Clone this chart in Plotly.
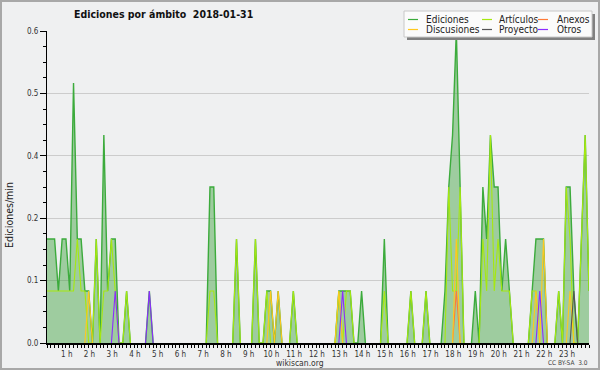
import plotly.graph_objects as go

# 10-minute bins over 2018-01-31 (00:00 ... 23:50), values in edits per minute
slot_hours = [i / 6 for i in range(144)]

ediciones = [
    0.2, 0.2, 0.2, 0.1, 0.2, 0.2, 0.1, 0.5, 0.2, 0.2, 0.1, 0.1,
    0.0, 0.2, 0.0, 0.4, 0.1, 0.2, 0.2, 0.0, 0.0, 0.1, 0.0, 0.0,
    0.0, 0.0, 0.0, 0.1, 0.0, 0.0, 0.0, 0.0, 0.0, 0.0, 0.0, 0.0,
    0.0, 0.0, 0.0, 0.0, 0.0, 0.0, 0.0, 0.3, 0.3, 0.0, 0.0, 0.0,
    0.0, 0.0, 0.2, 0.0, 0.0, 0.0, 0.0, 0.2, 0.0, 0.0, 0.1, 0.1,
    0.0, 0.1, 0.0, 0.0, 0.0, 0.1, 0.0, 0.0, 0.0, 0.0, 0.0, 0.0,
    0.0, 0.0, 0.0, 0.0, 0.0, 0.1, 0.1, 0.1, 0.1, 0.0, 0.0, 0.1,
    0.0, 0.0, 0.0, 0.0, 0.0, 0.2, 0.0, 0.0, 0.0, 0.0, 0.0, 0.0,
    0.1, 0.0, 0.0, 0.0, 0.1, 0.0, 0.0, 0.0, 0.0, 0.1, 0.3, 0.4,
    0.6, 0.3, 0.0, 0.0, 0.0, 0.1, 0.0, 0.3, 0.2, 0.4, 0.3, 0.3,
    0.1, 0.2, 0.1, 0.0, 0.0, 0.0, 0.0, 0.0, 0.1, 0.2, 0.2, 0.2,
    0.0, 0.0, 0.0, 0.1, 0.0, 0.3, 0.3, 0.1, 0.0, 0.2, 0.4, 0.1,
]

articulos = [
    0.1, 0.1, 0.1, 0.1, 0.1, 0.1, 0.1, 0.1, 0.2, 0.1, 0.1, 0.0,
    0.0, 0.2, 0.0, 0.1, 0.1, 0.2, 0.1, 0.0, 0.0, 0.1, 0.0, 0.0,
    0.0, 0.0, 0.0, 0.0, 0.0, 0.0, 0.0, 0.0, 0.0, 0.0, 0.0, 0.0,
    0.0, 0.0, 0.0, 0.0, 0.0, 0.0, 0.0, 0.1, 0.1, 0.0, 0.0, 0.0,
    0.0, 0.0, 0.2, 0.0, 0.0, 0.0, 0.0, 0.2, 0.0, 0.0, 0.1, 0.0,
    0.0, 0.0, 0.0, 0.0, 0.0, 0.1, 0.0, 0.0, 0.0, 0.0, 0.0, 0.0,
    0.0, 0.0, 0.0, 0.0, 0.0, 0.1, 0.0, 0.1, 0.1, 0.0, 0.0, 0.0,
    0.0, 0.0, 0.0, 0.0, 0.0, 0.1, 0.0, 0.0, 0.0, 0.0, 0.0, 0.0,
    0.1, 0.0, 0.0, 0.0, 0.1, 0.0, 0.0, 0.0, 0.0, 0.0, 0.3, 0.1,
    0.1, 0.3, 0.0, 0.0, 0.0, 0.0, 0.0, 0.2, 0.1, 0.4, 0.1, 0.2,
    0.1, 0.1, 0.1, 0.0, 0.0, 0.0, 0.0, 0.0, 0.1, 0.1, 0.0, 0.0,
    0.0, 0.0, 0.0, 0.1, 0.0, 0.3, 0.2, 0.0, 0.0, 0.2, 0.4, 0.1,
]

anexos = [
    0.0, 0.0, 0.0, 0.0, 0.0, 0.0, 0.0, 0.0, 0.0, 0.0, 0.0, 0.0,
    0.0, 0.0, 0.0, 0.0, 0.0, 0.0, 0.0, 0.0, 0.0, 0.0, 0.0, 0.0,
    0.0, 0.0, 0.0, 0.0, 0.0, 0.0, 0.0, 0.0, 0.0, 0.0, 0.0, 0.0,
    0.0, 0.0, 0.0, 0.0, 0.0, 0.0, 0.0, 0.0, 0.0, 0.0, 0.0, 0.0,
    0.0, 0.0, 0.0, 0.0, 0.0, 0.0, 0.0, 0.0, 0.0, 0.0, 0.0, 0.0,
    0.0, 0.0, 0.0, 0.0, 0.0, 0.0, 0.0, 0.0, 0.0, 0.0, 0.0, 0.0,
    0.0, 0.0, 0.0, 0.0, 0.0, 0.0, 0.0, 0.0, 0.0, 0.0, 0.0, 0.0,
    0.0, 0.0, 0.0, 0.0, 0.0, 0.0, 0.0, 0.0, 0.0, 0.0, 0.0, 0.0,
    0.0, 0.0, 0.0, 0.0, 0.0, 0.0, 0.0, 0.0, 0.0, 0.0, 0.0, 0.0,
    0.1, 0.0, 0.0, 0.0, 0.0, 0.0, 0.0, 0.0, 0.0, 0.0, 0.0, 0.0,
    0.0, 0.0, 0.0, 0.0, 0.0, 0.0, 0.0, 0.0, 0.0, 0.0, 0.0, 0.0,
    0.0, 0.0, 0.0, 0.0, 0.0, 0.0, 0.0, 0.0, 0.0, 0.0, 0.0, 0.0,
]

discusiones = [
    0.0, 0.0, 0.0, 0.0, 0.0, 0.0, 0.0, 0.0, 0.0, 0.0, 0.0, 0.1,
    0.0, 0.0, 0.0, 0.0, 0.0, 0.0, 0.0, 0.0, 0.0, 0.0, 0.0, 0.0,
    0.0, 0.0, 0.0, 0.0, 0.0, 0.0, 0.0, 0.0, 0.0, 0.0, 0.0, 0.0,
    0.0, 0.0, 0.0, 0.0, 0.0, 0.0, 0.0, 0.0, 0.0, 0.0, 0.0, 0.0,
    0.0, 0.0, 0.0, 0.0, 0.0, 0.0, 0.0, 0.0, 0.0, 0.0, 0.0, 0.1,
    0.0, 0.1, 0.0, 0.0, 0.0, 0.0, 0.0, 0.0, 0.0, 0.0, 0.0, 0.0,
    0.0, 0.0, 0.0, 0.0, 0.0, 0.1, 0.0, 0.0, 0.0, 0.0, 0.0, 0.0,
    0.0, 0.0, 0.0, 0.0, 0.0, 0.0, 0.0, 0.0, 0.0, 0.0, 0.0, 0.0,
    0.0, 0.0, 0.0, 0.0, 0.0, 0.0, 0.0, 0.0, 0.0, 0.0, 0.0, 0.0,
    0.2, 0.0, 0.0, 0.0, 0.0, 0.0, 0.0, 0.0, 0.0, 0.0, 0.0, 0.0,
    0.0, 0.0, 0.0, 0.0, 0.0, 0.0, 0.0, 0.0, 0.0, 0.1, 0.0, 0.2,
    0.0, 0.0, 0.0, 0.0, 0.0, 0.0, 0.1, 0.0, 0.0, 0.0, 0.0, 0.0,
]

proyecto = [
    0.0, 0.0, 0.0, 0.0, 0.0, 0.0, 0.0, 0.0, 0.0, 0.0, 0.0, 0.0,
    0.0, 0.0, 0.0, 0.0, 0.0, 0.0, 0.0, 0.0, 0.0, 0.0, 0.0, 0.0,
    0.0, 0.0, 0.0, 0.0, 0.0, 0.0, 0.0, 0.0, 0.0, 0.0, 0.0, 0.0,
    0.0, 0.0, 0.0, 0.0, 0.0, 0.0, 0.0, 0.0, 0.0, 0.0, 0.0, 0.0,
    0.0, 0.0, 0.0, 0.0, 0.0, 0.0, 0.0, 0.0, 0.0, 0.0, 0.0, 0.0,
    0.0, 0.0, 0.0, 0.0, 0.0, 0.0, 0.0, 0.0, 0.0, 0.0, 0.0, 0.0,
    0.0, 0.0, 0.0, 0.0, 0.0, 0.0, 0.0, 0.0, 0.0, 0.0, 0.0, 0.0,
    0.0, 0.0, 0.0, 0.0, 0.0, 0.0, 0.0, 0.0, 0.0, 0.0, 0.0, 0.0,
    0.0, 0.0, 0.0, 0.0, 0.0, 0.0, 0.0, 0.0, 0.0, 0.0, 0.0, 0.0,
    0.0, 0.0, 0.0, 0.0, 0.0, 0.0, 0.0, 0.0, 0.0, 0.0, 0.0, 0.0,
    0.0, 0.0, 0.0, 0.0, 0.0, 0.0, 0.0, 0.0, 0.0, 0.0, 0.0, 0.0,
    0.0, 0.0, 0.0, 0.0, 0.0, 0.0, 0.0, 0.1, 0.0, 0.0, 0.0, 0.0,
]

otros = [
    0.0, 0.0, 0.0, 0.0, 0.0, 0.0, 0.0, 0.0, 0.0, 0.0, 0.0, 0.0,
    0.0, 0.0, 0.0, 0.0, 0.0, 0.0, 0.1, 0.0, 0.0, 0.0, 0.0, 0.0,
    0.0, 0.0, 0.0, 0.1, 0.0, 0.0, 0.0, 0.0, 0.0, 0.0, 0.0, 0.0,
    0.0, 0.0, 0.0, 0.0, 0.0, 0.0, 0.0, 0.0, 0.0, 0.0, 0.0, 0.0,
    0.0, 0.0, 0.0, 0.0, 0.0, 0.0, 0.0, 0.0, 0.0, 0.0, 0.0, 0.0,
    0.0, 0.0, 0.0, 0.0, 0.0, 0.0, 0.0, 0.0, 0.0, 0.0, 0.0, 0.0,
    0.0, 0.0, 0.0, 0.0, 0.0, 0.0, 0.1, 0.0, 0.0, 0.0, 0.0, 0.0,
    0.0, 0.0, 0.0, 0.0, 0.0, 0.0, 0.0, 0.0, 0.0, 0.0, 0.0, 0.0,
    0.0, 0.0, 0.0, 0.0, 0.0, 0.0, 0.0, 0.0, 0.0, 0.0, 0.0, 0.0,
    0.0, 0.0, 0.0, 0.0, 0.0, 0.0, 0.0, 0.0, 0.0, 0.0, 0.0, 0.0,
    0.0, 0.0, 0.0, 0.0, 0.0, 0.0, 0.0, 0.0, 0.0, 0.0, 0.1, 0.0,
    0.0, 0.0, 0.0, 0.0, 0.0, 0.0, 0.0, 0.0, 0.0, 0.0, 0.0, 0.0,
]

series_names = ["Ediciones", "Artículos", "Anexos", "Discusiones", "Proyecto", "Otros"]
series_values = [ediciones, articulos, anexos, discusiones, proyecto, otros]
series_colors = ["#3cab3c", "#a6e810", "#ff7a38", "#ffc81e", "#555555", "#8c2cff"]

y_tick_vals = [0, 0.12, 0.24, 0.36, 0.48, 0.6]
y_tick_text = ["0.0", "0.1", "0.2", "0.4", "0.5", "0.6"]
x_tick_vals = list(range(1, 24))
x_tick_text = [f"{h} h" for h in x_tick_vals]

title_text = "Ediciones por ámbito\u00a0 2018-01-31"

W, H = 600, 370
PL, PR, PT, PB = 47, 589, 31, 343


def xp(px):
    return (px - PL) / (PR - PL)


def yp(py):
    return (PB - py) / (PB - PT)


def hide_flat_zero_runs(vals):
    """Blank the points that sit on the baseline between two zero neighbours,
    so the line (which the axis line would cover anyway) is not drawn there."""
    out = []
    n = len(vals)
    for i, v in enumerate(vals):
        left = vals[i - 1] if i > 0 else 0.0
        right = vals[i + 1] if i < n - 1 else 0.0
        out.append(None if (v == 0 and left == 0 and right == 0) else v)
    return out


BG = "#eff0f1"
FONT = "DejaVu Sans Condensed, DejaVu Sans"

fig = go.Figure()
for k, (name, vals, col) in enumerate(zip(series_names, series_values, series_colors)):
    shown = hide_flat_zero_runs(vals)
    if k == 0:
        fig.add_trace(go.Scatter(
            x=slot_hours, y=shown, name=name, mode="lines",
            line=dict(color=col, width=1.4),
            fill="tozeroy", fillcolor="rgba(60,160,60,0.45)",
        ))
    else:
        fig.add_trace(go.Scatter(
            x=slot_hours, y=shown, name=name, mode="lines",
            line=dict(color=col, width=1.1),
        ))

fig.update_layout(
    width=W, height=H,
    margin=dict(l=PL, r=W - PR, t=PT, b=H - PB, pad=0),
    paper_bgcolor=BG, plot_bgcolor=BG,
    showlegend=False,
    font=dict(family=FONT, color="#333333"),
)

fig.update_xaxes(
    range=[0, slot_hours[-1]],
    tickmode="array", tickvals=x_tick_vals, ticktext=x_tick_text,
    ticks="outside", ticklen=3, tickwidth=1, tickcolor="black",
    tickfont=dict(size=8, color="#333333", family=FONT),
    ticklabelshift=-3, ticklabelstandoff=0,
    showline=True, linecolor="black", linewidth=1.5,
    showgrid=False, zeroline=False,
    minor=dict(tickmode="linear", tick0=0, dtick=1 / 6, ticks="outside",
               ticklen=3, tickcolor="black", showgrid=False),
)

fig.update_yaxes(
    range=[0, 0.6],
    tickmode="array", tickvals=y_tick_vals, ticktext=y_tick_text,
    ticks="outside", ticklen=6, tickwidth=1, tickcolor="black",
    tickfont=dict(size=8, color="#333333", family=FONT),
    showline=True, linecolor="black", linewidth=1,
    showgrid=True, gridcolor="#cccccc", gridwidth=1, zeroline=False,
    minor=dict(tickmode="linear", tick0=0, dtick=0.03, ticks="outside",
               ticklen=3, tickcolor="black", showgrid=False),
)

shapes = [
    # outer frame
    dict(type="rect", xref="paper", yref="paper",
         x0=xp(1), x1=xp(599), y0=yp(369), y1=yp(1),
         line=dict(color="#a8a8a8", width=2), fillcolor="rgba(0,0,0,0)", layer="above"),
    # legend shadow
    dict(type="rect", xref="paper", yref="paper",
         x0=xp(407), x1=xp(595), y0=yp(40), y1=yp(14),
         line=dict(width=0), fillcolor="#808080", layer="above"),
    # legend box
    dict(type="rect", xref="paper", yref="paper",
         x0=xp(404), x1=xp(592), y0=yp(37), y1=yp(11),
         line=dict(color="#c8c8c8", width=1), fillcolor="#fbfbfb", layer="above"),
]

annotations = [
    dict(text="<b>" + title_text + "</b>", x=xp(163), y=yp(14), xref="paper", yref="paper",
         showarrow=False, xanchor="center", yanchor="middle",
         font=dict(size=10.5, color="#111111", family=FONT)),
    dict(text="Ediciones/min", x=xp(9), y=yp(215), xref="paper", yref="paper",
         showarrow=False, textangle=-90, xanchor="center", yanchor="middle",
         font=dict(size=10.5, color="#222222", family=FONT)),
    dict(text="wikiscan.org", x=xp(300), y=yp(363), xref="paper", yref="paper",
         showarrow=False, xanchor="center", yanchor="middle",
         font=dict(size=8.5, color="#333333", family=FONT)),
    dict(text="CC BY-SA\u00a0 3.0", x=xp(590), y=yp(363), xref="paper", yref="paper",
         showarrow=False, xanchor="right", yanchor="middle",
         font=dict(size=6.5, color="#444444", family=FONT)),
]

legend_line_x = [408, 482, 538]
legend_text_x = [424, 497, 555]
legend_row_y = [19.5, 29.5]
for k, (name, col) in enumerate(zip(series_names, series_colors)):
    c, r = k % 3, k // 3
    shapes.append(dict(type="line", xref="paper", yref="paper",
                       x0=xp(legend_line_x[c]), x1=xp(legend_line_x[c] + 10),
                       y0=yp(legend_row_y[r]), y1=yp(legend_row_y[r]),
                       line=dict(color=col, width=1.2), layer="above"))
    annotations.append(dict(text=name, x=xp(legend_text_x[c]), y=yp(legend_row_y[r]),
                            xref="paper", yref="paper", showarrow=False,
                            xanchor="left", yanchor="middle",
                            font=dict(size=10, color="#222222", family=FONT)))

fig.update_layout(shapes=shapes, annotations=annotations)

fig.write_html(
    "out.html",
    config={"displayModeBar": False},
    post_script="document.body.style.margin='0';document.body.style.padding='0';"
                "document.documentElement.style.overflow='hidden';",
)
